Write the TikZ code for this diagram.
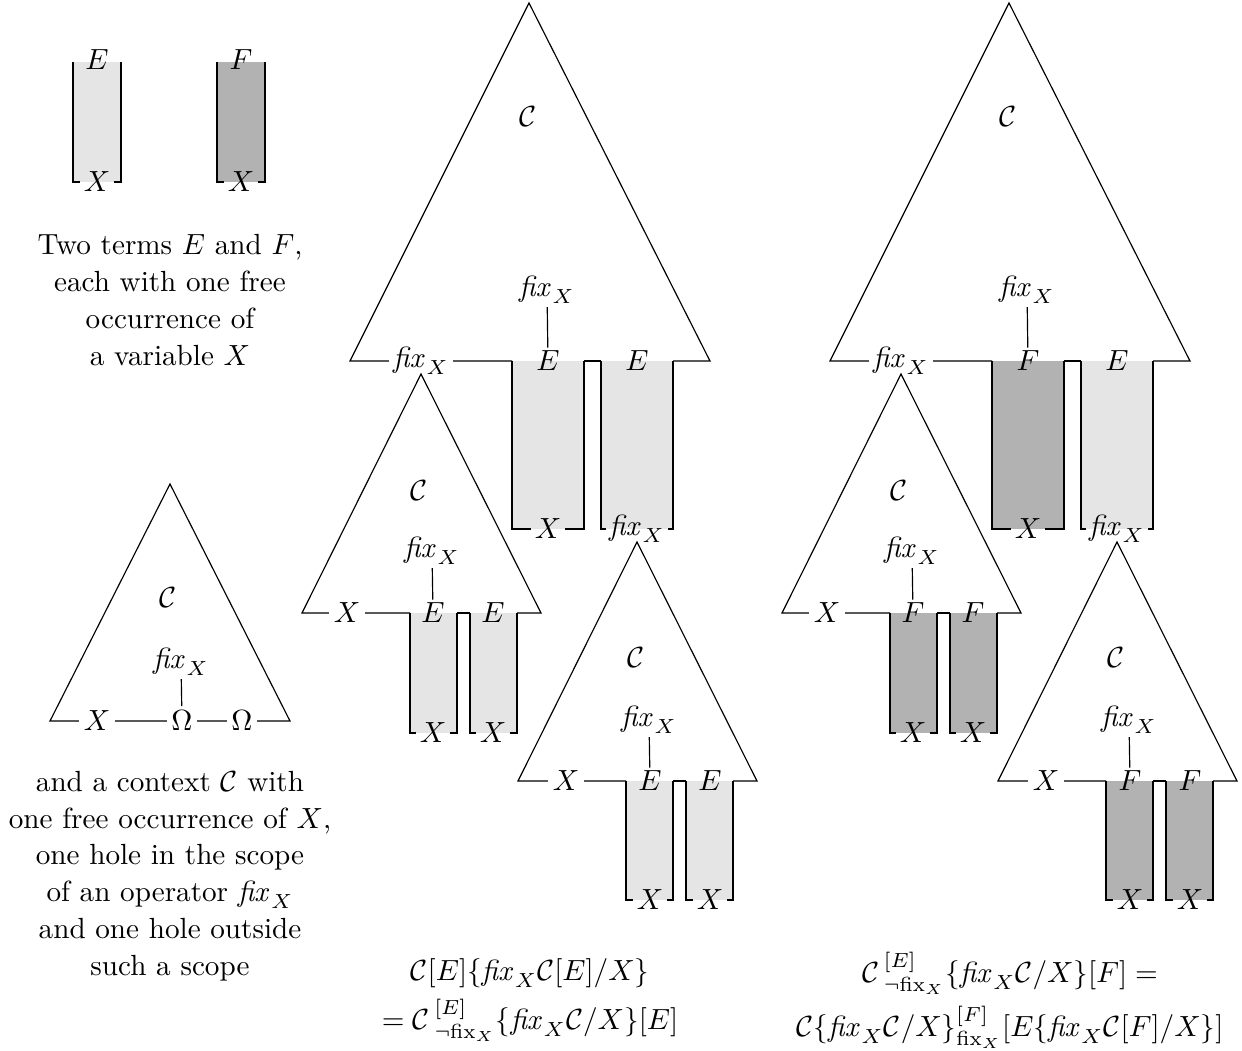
\documentclass[tikz,border=0pt]{standalone}

\colorlet{termE}{black!10}
\colorlet{termF}{black!30}

\tikzset{
  onbase/.style={fill=white, inner sep=1.5pt},
  tag/.style={inner sep=1pt},
  legend/.style={align=center, font=\linespread{1.05}\selectfont},
}

\begin{document}
\begin{tikzpicture}[x=0.343pt,y=-0.343pt]%[show background grid]
	\useasboundingbox (0,0) rectangle (1242,1050);

	% the two terms
	\fill[termE] (73,62) rectangle (121,182);
	\fill[termF] (217,62) rectangle (265,182);
	\node[tag] (termE) at (97,60) {$E$};
	\node[tag] (termEX) at (97,182) {$X$};
	\node[tag] (termF) at (241,60) {$F$};
	\node[tag] (termFX) at (241,182) {$X$};
	\draw (73,62) -- (73,182) -- (termEX.west);
	\draw (termEX.east) -- (121,182) -- (121,62);
	\draw (217,62) -- (217,182) -- (termFX.west);
	\draw (termFX.east) -- (265,182) -- (265,62);

	\node[legend] (termtext) at (170,300) {Two terms $E$ and $F$,\\ each with one free\\ occurrence of\\ a variable $X$};

	% the context
	\draw (50,721) -- (170,484) -- (290,721) -- cycle;
	\node[tag] (ctxC) at (168,598) {$\mathcal C$};
	\node[tag] (ctxop) at (181,662) {$\mathit{fix}_X$};
	\node[onbase] (ctxX) at (97,721) {$X$};
	\node[onbase] (ctxh1) at (182,721) {$\Omega$};
	\node[onbase] (ctxh2) at (242,721) {$\Omega$};
	\draw (ctxop) -- (ctxh1);

	\node[legend] (ctxtext) at (170,876) {and a context $\mathcal C$ with\\ one free occurrence of $X$,\\ one hole in the scope\\ of an operator $\mathit{fix}_X$\\ and one hole outside\\ such a scope};

	% the two unfoldings
	\foreach \dx/\t/\c/\n in {0/E/termE/m, 480/F/termF/r}{
	\begin{scope}[shift={(\dx,0)}]

		\fill[\c] (512,361) rectangle (584,529);
		\fill[termE] (601,361) rectangle (673,529);
		\draw (512,361) -- (350,361) -- (529,3) -- (710,361) -- (673,361);
		\draw (584,361) -- (601,361);
		\node[onbase] (bigfix\n) at (421,361) {$\mathit{fix}_X$};
		\node[tag] (bigC\n) at (528,117) {$\mathcal C$};
		\node[tag] (bigop\n) at (547,290) {$\mathit{fix}_X$};
		\node[tag] (bigh1\n) at (548,361) {$\t$};
		\node[tag] (bigh2\n) at (637,361) {$E$};
		\node[tag] (bigx1\n) at (548,529) {$X$};
		\node[tag] (bigx2\n) at (637,529) {$\mathit{fix}_X$};
		\draw (bigop\n) -- (bigh1\n);
		\draw (512,361) -- (512,529) -- (bigx1\n.west);
		\draw (bigx1\n.east) -- (584,529) -- (584,361);
		\draw (601,361) -- (601,529) -- (bigx2\n.west);
		\draw (bigx2\n.east) -- (673,529) -- (673,361);

		\fill[\c] (410,613) rectangle (457,733);
		\fill[\c] (470,613) rectangle (517,733);
		\draw (410,613) -- (302,613) -- (421,374) -- (541,613) -- (517,613);
		\draw (457,613) -- (470,613);
		\node[onbase] (lftX\n) at (347,613) {$X$};
		\node[tag] (lftC\n) at (419,491) {$\mathcal C$};
		\node[tag] (lftop\n) at (432,551) {$\mathit{fix}_X$};
		\node[tag] (lfth1\n) at (433,613) {$\t$};
		\node[tag] (lfth2\n) at (493,613) {$\t$};
		\node[tag] (lftx1\n) at (433,733) {$X$};
		\node[tag] (lftx2\n) at (493,733) {$X$};
		\draw (lftop\n) -- (lfth1\n);
		\draw (410,613) -- (410,733) -- (lftx1\n.west);
		\draw (lftx1\n.east) -- (457,733) -- (457,613);
		\draw (470,613) -- (470,733) -- (lftx2\n.west);
		\draw (lftx2\n.east) -- (517,733) -- (517,613);

		\fill[\c] (626,781) rectangle (673,900);
		\fill[\c] (686,781) rectangle (733,900);
		\draw (626,781) -- (518,781) -- (637,542) -- (757,781) -- (733,781);
		\draw (673,781) -- (686,781);
		\node[onbase] (lowX\n) at (566,781) {$X$};
		\node[tag] (lowC\n) at (636,658) {$\mathcal C$};
		\node[tag] (lowop\n) at (649,720) {$\mathit{fix}_X$};
		\node[tag] (lowh1\n) at (650,781) {$\t$};
		\node[tag] (lowh2\n) at (710,781) {$\t$};
		\node[tag] (lowx1\n) at (650,900) {$X$};
		\node[tag] (lowx2\n) at (710,900) {$X$};
		\draw (lowop\n) -- (lowh1\n);
		\draw (626,781) -- (626,900) -- (lowx1\n.west);
		\draw (lowx1\n.east) -- (673,900) -- (673,781);
		\draw (686,781) -- (686,900) -- (lowx2\n.west);
		\draw (lowx2\n.east) -- (733,900) -- (733,781);

	\end{scope}
	}

	\node[legend] (midtext) at (530,1000) {$\mathcal C[E]\{\mathit{fix}_X\mathcal C[E]/X\}$\\[3pt]
		$=\mathcal C\,{}^{[E]}_{\neg\mathrm{fix}_X}\{\mathit{fix}_X\mathcal C/X\}[E]$};
	\node[legend] (rgttext) at (1010,1000) {$\mathcal C\,{}^{[E]}_{\neg\mathrm{fix}_X}\{\mathit{fix}_X\mathcal C/X\}[F]=$\\[3pt]
		$\mathcal C\{\mathit{fix}_X\mathcal C/X\}^{[F]}_{\mathrm{fix}_X}[E\{\mathit{fix}_X\mathcal C[F]/X\}]$};

\end{tikzpicture}
\end{document}
